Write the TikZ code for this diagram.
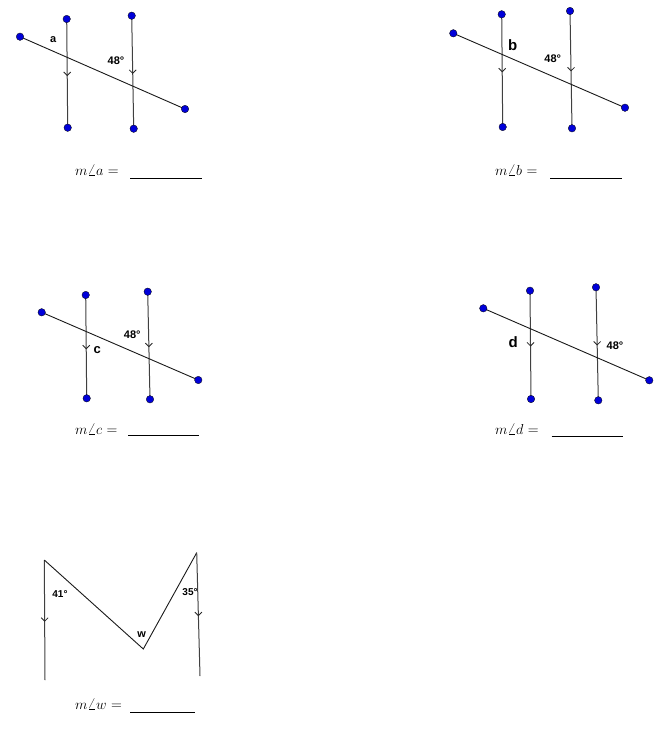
\documentclass[tikz,border=0pt]{standalone}
\usepackage{fontspec}
\setsansfont{Liberation Sans}
\usetikzlibrary{calc}
\begin{document}
\begin{tikzpicture}[x=1pt,y=-1pt,
  seg/.style={draw=black!90,line width=0.9pt},
  vline/.style={draw=black!75,line width=1pt},
  dotpt/.style={circle,fill=blue!85!black,draw=black,line width=0.3pt,inner sep=0pt,minimum size=7.5pt},
  lbl/.style={font=\sffamily\bfseries\fontsize{11}{13}\selectfont,inner sep=0pt},
  biglbl/.style={font=\sffamily\bfseries\fontsize{15}{17}\selectfont,inner sep=0pt},
  smlbl/.style={font=\sffamily\bfseries\fontsize{10}{12}\selectfont,inner sep=0pt},
  ans/.style={anchor=base west,inner sep=0pt,font=\fontsize{15}{17}\selectfont},
  blank/.style={draw=black,line width=0.8pt},
  chev/.pic={\draw[black!85,line width=0.8pt] (-3.5,-3.5) -- (0,0) -- (3.5,-3.5);}
]
\useasboundingbox (0,0) rectangle (669,736);

% ---------- figure a ----------
\coordinate (a1) at (66.7,19);   \coordinate (a2) at (67.7,127.7);
\coordinate (a3) at (131.7,15.7); \coordinate (a4) at (133.7,128.7);
\coordinate (a5) at (20,36.7);   \coordinate (a6) at (185,109);
\draw[vline] (a1) -- (a2);
\draw[vline] (a3) -- (a4);
\draw[seg] (a5) -- (a6);
\pic at ($(a1)!0.52!(a2)$) {chev};
\pic at ($(a3)!0.51!(a4)$) {chev};
\foreach \p in {a1,a2,a3,a4,a5,a6} \node[dotpt] (d\p) at (\p) {};
\node[lbl] (la) at (53.3,39.5) {a};
\node[lbl] (la48) at (116,61) {48°};
\node[ans] (ta) at (75,175) {$m\angle a$ =};
\draw[blank] (130,178.3) -- (201.7,178.3);

% ---------- figure b ----------
\coordinate (b1) at (501.7,14.3); \coordinate (b2) at (502.7,127);
\coordinate (b3) at (570,11);     \coordinate (b4) at (572,128.3);
\coordinate (b5) at (453.3,33.3); \coordinate (b6) at (625,107.7);
\draw[vline] (b1) -- (b2);
\draw[vline] (b3) -- (b4);
\draw[seg] (b5) -- (b6);
\pic at ($(b1)!0.51!(b2)$) {chev};
\pic at ($(b3)!0.51!(b4)$) {chev};
\foreach \p in {b1,b2,b3,b4,b5,b6} \node[dotpt] (d\p) at (\p) {};
\node[biglbl] (lb) at (512.7,45) {b};
\node[lbl] (lb48) at (552.7,58.3) {48°};
\node[ans] (tb) at (495,175) {$m\angle b$ =};
\draw[blank] (550,178.3) -- (621.7,178.3);

% ---------- figure c ----------
\coordinate (c1) at (85.7,295);   \coordinate (c2) at (86.7,398.3);
\coordinate (c3) at (147.7,291.7); \coordinate (c4) at (150,399.3);
\coordinate (c5) at (41.7,312.3); \coordinate (c6) at (198.3,380);
\draw[vline] (c1) -- (c2);
\draw[vline] (c3) -- (c4);
\draw[seg] (c5) -- (c6);
\pic at ($(c1)!0.52!(c2)$) {chev};
\pic at ($(c3)!0.51!(c4)$) {chev};
\foreach \p in {c1,c2,c3,c4,c5,c6} \node[dotpt] (d\p) at (\p) {};
\node[lbl,font=\sffamily\bfseries\fontsize{13}{15}\selectfont] (lc) at (97.3,350) {c};
\node[lbl] (lc48) at (132.3,335) {48°};
\node[ans] (tc) at (75,434) {$m\angle c$ =};
\draw[blank] (128.3,435.7) -- (199.3,435.7);

% ---------- figure d ----------
\coordinate (e1) at (530,290.7);   \coordinate (e2) at (531,399);
\coordinate (e3) at (596,287.3);   \coordinate (e4) at (598.3,400.3);
\coordinate (e5) at (483.3,308.3); \coordinate (e6) at (649.3,380.3);
\draw[vline] (e1) -- (e2);
\draw[vline] (e3) -- (e4);
\draw[seg] (e5) -- (e6);
\pic at ($(e1)!0.51!(e2)$) {chev};
\pic at ($(e3)!0.51!(e4)$) {chev};
\foreach \p in {e1,e2,e3,e4,e5,e6} \node[dotpt] (d\p) at (\p) {};
\node[biglbl] (ld) at (513.3,341.7) {d};
\node[lbl] (ld48) at (615,345.7) {48°};
\node[ans] (td) at (495,434) {$m\angle d$ =};
\draw[blank] (551.7,436) -- (622.7,436);

% ---------- figure w ----------
\coordinate (m1) at (45,680);
\coordinate (m2) at (44.3,560);
\coordinate (m3) at (143.3,649);
\coordinate (m4) at (196.7,552.7);
\coordinate (m5) at (200,676);
\draw[vline] (m1) -- (m2);
\draw[seg] (m2) -- (m3) -- (m4);
\draw[vline] (m4) -- (m5);
\pic at ($(m2)!0.51!(m1)$) {chev};
\pic at ($(m4)!0.51!(m5)$) {chev};
\node[smlbl] (l41) at (60,594) {41°};
\node[smlbl] (l35) at (190,592.3) {35°};
\node[lbl] (lw) at (141.7,635) {w};
\node[ans] (tw) at (75,709) {$m\angle w$ =};
\draw[blank] (130,712.3) -- (195,712.3);
\end{tikzpicture}
\end{document}
